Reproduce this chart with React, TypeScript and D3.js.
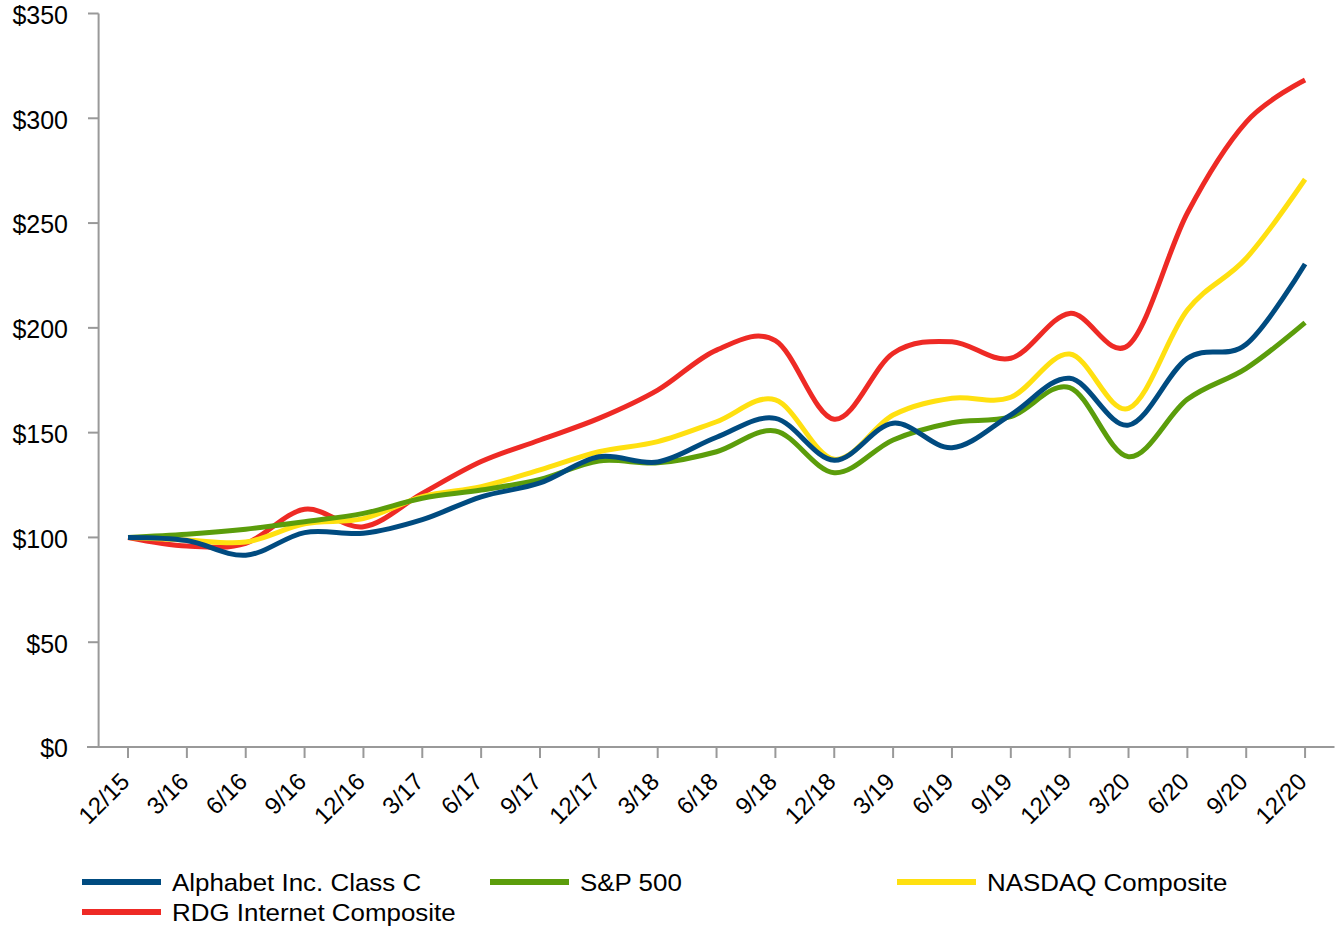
import React from "react";
import * as d3 from "d3";

const categories = ["12/15","3/16","6/16","9/16","12/16","3/17","6/17","9/17","12/17","3/18","6/18","9/18","12/18","3/19","6/19","9/19","12/19","3/20","6/20","9/20","12/20"];
const alphabet = [100, 98.5, 91.5, 102.3, 102, 108.5, 119.4, 126, 138.5, 136, 147.8, 156.8, 136.8, 154.5, 142.8, 158.5, 175.9, 153.6, 185.5, 192.2, 230.5];
const sp500 = [100, 101.5, 103.9, 107.5, 111.5, 118.7, 122.6, 127.7, 136.5, 135.6, 140.9, 150.8, 130.9, 146.5, 154.7, 157.6, 171.5, 138.5, 165.9, 180.7, 202.5];
const nasdaq = [100, 98.8, 97.8, 106.5, 109, 119.4, 124.2, 132.2, 140.9, 145.7, 155.2, 165.6, 137.3, 158.4, 166.4, 166.9, 187.5, 161.6, 208.5, 233.2, 270.9];
const rdg = [100, 95.9, 97.2, 113.4, 105.1, 121, 136.2, 146.5, 156.8, 170.3, 189.4, 193.9, 156.4, 187.9, 193.4, 185.5, 206.9, 191.8, 254.8, 298.2, 318.3];
const yTicks = [0, 50, 100, 150, 200, 250, 300, 350];

const seriesNames = ["Alphabet Inc. Class C", "S&P 500", "NASDAQ Composite", "RDG Internet Composite"];
const seriesData = [alphabet, sp500, nasdaq, rdg];
const seriesColors = ["#004b80", "#5b9d0b", "#ffe010", "#ee2a25"];

const W = 1335, H = 926;
const left = 98.6, right = 1334.5, top = 13.5, bottom = 747;

export default function App() {
  const x = d3.scaleBand<string>().domain(categories).range([left, right]).padding(0);
  const cx = (c: string) => (x(c) as number) + x.bandwidth() / 2;
  const y = d3.scaleLinear().domain([0, 350]).range([bottom, top]);
  const line = d3.line<number>()
    .x((_, i) => cx(categories[i]))
    .y((d) => y(d))
    .curve(d3.curveCardinal.tension(0));
  const font = "'Liberation Sans', Arial, sans-serif";
  const drawOrder = [3, 2, 1, 0];
  const legendPos = [
    { x: 82, y: 882 },
    { x: 490, y: 882 },
    { x: 897, y: 882 },
    { x: 82, y: 912 },
  ];
  return (
    <svg width={W} height={H} style={{ position: "absolute", left: 0, top: 0, background: "#fff" }} fontFamily={font}>
      {/* axes */}
      <line x1={left} x2={left} y1={top} y2={bottom} stroke="#999" strokeWidth={2} />
      <line x1={87} x2={right} y1={bottom} y2={bottom} stroke="#999" strokeWidth={2} />
      {yTicks.map((t) => (
        <g key={t}>
          <line x1={88} x2={left} y1={y(t)} y2={y(t)} stroke="#999" strokeWidth={2} />
          <text x={68} y={y(t)} dy="0.416em" textAnchor="end" fontSize={25} fill="#000">${t}</text>
        </g>
      ))}
      {categories.map((c) => (
        <g key={c}>
          <line x1={cx(c)} x2={cx(c)} y1={bottom} y2={bottom + 11} stroke="#999" strokeWidth={2} />
          <text transform={`translate(${cx(c) + 3},${bottom + 36}) rotate(-45)`} textAnchor="end" fontSize={24} fill="#000">{c}</text>
        </g>
      ))}
      {/* lines */}
      {drawOrder.map((i) => (
        <path key={i} d={line(seriesData[i]) as string} fill="none" stroke={seriesColors[i]} strokeWidth={5} strokeLinejoin="round" />
      ))}
      {/* legend */}
      {seriesNames.map((n, i) => (
        <g key={n}>
          <line x1={legendPos[i].x} x2={legendPos[i].x + 79} y1={legendPos[i].y} y2={legendPos[i].y} stroke={seriesColors[i]} strokeWidth={6} />
          <text transform={`translate(${legendPos[i].x + 90},${legendPos[i].y + 8.7}) scale(1.08,1)`} fontSize={24} fill="#000">{n}</text>
        </g>
      ))}
    </svg>
  );
}
